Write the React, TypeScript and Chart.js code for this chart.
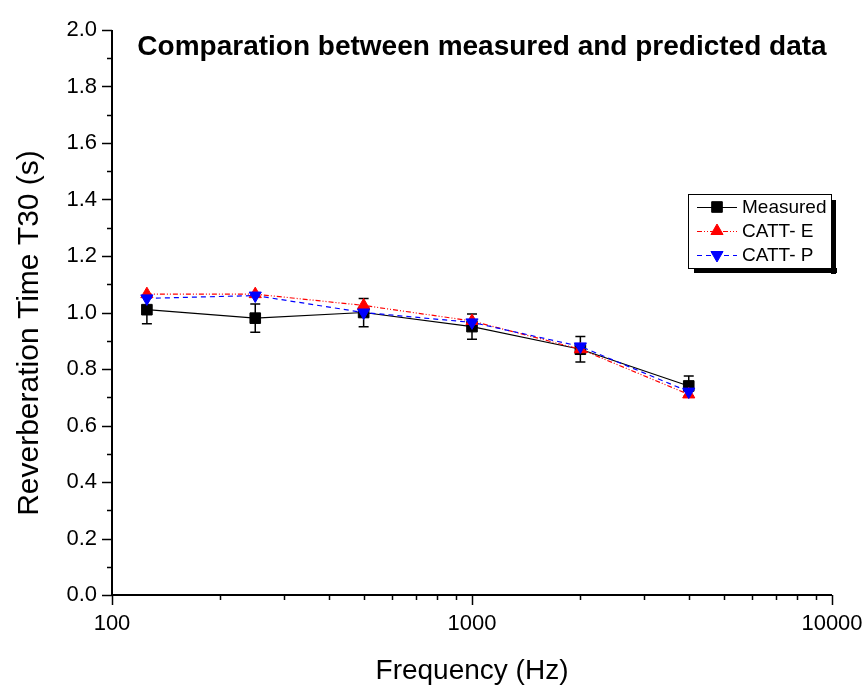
import React, { useEffect, useRef } from 'react';
import { Chart, registerables } from 'chart.js';

Chart.register(...registerables);

// ---------- data ----------
const frequencies = [125, 250, 500, 1000, 2000, 4000];
const measured = [1.01, 0.98, 1.0, 0.95, 0.87, 0.74];
const measuredError = [0.05, 0.05, 0.05, 0.045, 0.045, 0.035];
const cattE = [1.065, 1.065, 1.025, 0.97, 0.87, 0.71];
const cattP = [1.05, 1.06, 1.0, 0.965, 0.88, 0.72];

const xMajorTicks = [100, 1000, 10000];
const yMin = 0;
const yMax = 2.0;
const yStep = 0.2;

const seriesNames = ['Measured', 'CATT- E', 'CATT- P'];
const seriesColors = ['#000000', '#ff0000', '#0000ff'];
const chartTitle = 'Comparation between measured and predicted data';
const xTitle = 'Frequency (Hz)';
const yTitle = 'Reverberation Time T30 (s)';

const FONT = '"Liberation Sans", Arial, sans-serif';

function drawMarker(ctx: CanvasRenderingContext2D, kind: string, x: number, y: number, r: number, color: string) {
  ctx.save();
  ctx.fillStyle = color;
  ctx.strokeStyle = color;
  ctx.lineWidth = 1;
  ctx.setLineDash([]);
  ctx.beginPath();
  if (kind === 'rect') {
    const s = Math.SQRT1_2 * r;
    ctx.rect(x - s, y - s, 2 * s, 2 * s);
  } else {
    let rad = kind === 'down' ? Math.PI : 0;
    ctx.moveTo(x + Math.sin(rad) * r, y - Math.cos(rad) * r);
    rad += (2 * Math.PI) / 3;
    ctx.lineTo(x + Math.sin(rad) * r, y - Math.cos(rad) * r);
    rad += (2 * Math.PI) / 3;
    ctx.lineTo(x + Math.sin(rad) * r, y - Math.cos(rad) * r);
    ctx.closePath();
  }
  ctx.fill();
  ctx.stroke();
  ctx.restore();
}

const decorPlugin = {
  id: 'decor',
  beforeDatasetsDraw(chart: any) {
    const { ctx, scales } = chart;
    const x = scales.x;
    const y = scales.y;
    ctx.save();
    ctx.strokeStyle = '#000';
    ctx.lineWidth = 1.5;
    frequencies.forEach((f, i) => {
      const px = x.getPixelForValue(f);
      const top = y.getPixelForValue(measured[i] + measuredError[i]);
      const bot = y.getPixelForValue(measured[i] - measuredError[i]);
      ctx.beginPath();
      ctx.moveTo(px, top);
      ctx.lineTo(px, bot);
      ctx.moveTo(px - 5, top);
      ctx.lineTo(px + 5, top);
      ctx.moveTo(px - 5, bot);
      ctx.lineTo(px + 5, bot);
      ctx.stroke();
    });
    ctx.restore();
  },
  afterDraw(chart: any) {
    const { ctx, chartArea, scales } = chart;
    const x = scales.x;
    const y = scales.y;
    const { left, right, top, bottom } = chartArea;
    ctx.save();
    ctx.strokeStyle = '#000';
    ctx.lineCap = 'butt';

    // tick marks
    ctx.lineWidth = 1.5;
    ctx.beginPath();
    for (let d = 100; d < 10000; d *= 10) {
      for (let k = 1; k <= 10; k++) {
        const v = d * k;
        if (v > 10000) break;
        const px = Math.round(x.getPixelForValue(v)) + 0.5;
        const len = k === 1 || k === 10 ? 10 : 5;
        ctx.moveTo(px, bottom);
        ctx.lineTo(px, bottom + len);
      }
    }
    const nY = Math.round((yMax - yMin) / (yStep / 2));
    for (let i = 0; i <= nY; i++) {
      const v = yMin + (i * yStep) / 2;
      const py = Math.round(y.getPixelForValue(v)) + 0.5;
      const len = i % 2 === 0 ? 10 : 5;
      ctx.moveTo(left, py);
      ctx.lineTo(left - len, py);
    }
    ctx.stroke();

    // axis lines
    ctx.lineWidth = 2;
    ctx.beginPath();
    ctx.moveTo(left, top);
    ctx.lineTo(left, bottom);
    ctx.lineTo(right, bottom);
    ctx.stroke();

    // title
    ctx.fillStyle = '#000';
    ctx.font = `bold 28px ${FONT}`;
    ctx.textAlign = 'center';
    ctx.textBaseline = 'middle';
    ctx.fillText(chartTitle, 482, 47);

    // axis titles
    ctx.font = `28px ${FONT}`;
    ctx.fillText(xTitle, (left + right) / 2, 671);
    ctx.save();
    ctx.translate(30, 333);
    ctx.rotate(-Math.PI / 2);
    ctx.font = `30px ${FONT}`;
    ctx.fillText(yTitle, 0, 0);
    ctx.restore();

    // legend
    const lx = 688, ly = 194, lw = 143, lh = 74;
    ctx.fillStyle = '#000';
    ctx.fillRect(lx + lw, ly + 6, 5, lh);
    ctx.fillRect(lx + 6, ly + lh, lw, 5);
    ctx.fillStyle = '#fff';
    ctx.fillRect(lx, ly, lw, lh);
    ctx.lineWidth = 1;
    ctx.strokeStyle = '#000';
    ctx.strokeRect(lx + 0.5, ly + 0.5, lw, lh);

    const rows = [207, 231, 255];
    const dashes = [[], [5, 2, 1, 2, 1, 2], [5, 4]];
    const kinds = ['rect', 'up', 'down'];
    const radii = [7.5, 7, 7];
    rows.forEach((ry, i) => {
      ctx.save();
      ctx.strokeStyle = seriesColors[i];
      ctx.lineWidth = 1.2;
      ctx.setLineDash(dashes[i]);
      ctx.beginPath();
      ctx.moveTo(697, ry + 0.5);
      ctx.lineTo(737, ry + 0.5);
      ctx.stroke();
      ctx.restore();
      drawMarker(ctx, kinds[i], 717, ry, radii[i], seriesColors[i]);
      ctx.fillStyle = '#000';
      ctx.font = `19px ${FONT}`;
      ctx.textAlign = 'left';
      ctx.textBaseline = 'middle';
      ctx.fillText(seriesNames[i], 742, ry + 1);
    });
    ctx.restore();
  },
};

export default function App() {
  const canvasRef = useRef<HTMLCanvasElement | null>(null);

  useEffect(() => {
    const canvas = canvasRef.current;
    if (!canvas) return;
    const toPoints = (vals: number[]) => frequencies.map((f, i) => ({ x: f, y: vals[i] }));
    const chart = new Chart(canvas, {
      type: 'line',
      data: {
        datasets: [
          {
            label: seriesNames[0],
            data: toPoints(measured),
            borderColor: seriesColors[0],
            backgroundColor: seriesColors[0],
            borderWidth: 1.2,
            pointStyle: 'rect',
            pointRadius: 7.5,
            pointBorderWidth: 1,
            order: 3,
            tension: 0,
          },
          {
            label: seriesNames[1],
            data: toPoints(cattE),
            borderColor: seriesColors[1],
            backgroundColor: seriesColors[1],
            borderWidth: 1.2,
            borderDash: [5, 2, 1, 2, 1, 2],
            pointStyle: 'triangle',
            pointRadius: 7,
            pointBorderWidth: 1,
            order: 2,
            tension: 0,
          },
          {
            label: seriesNames[2],
            data: toPoints(cattP),
            borderColor: seriesColors[2],
            backgroundColor: seriesColors[2],
            borderWidth: 1.2,
            borderDash: [5, 4],
            pointStyle: 'triangle',
            pointRotation: 180,
            pointRadius: 7,
            pointBorderWidth: 1,
            order: 1,
            tension: 0,
          },
        ],
      },
      options: {
        responsive: false,
        animation: false,
        events: [],
        layout: { padding: { left: 0, top: 30, right: 32, bottom: 0 } },
        plugins: {
          legend: { display: false },
          title: { display: false },
          tooltip: { enabled: false },
        },
        scales: {
          x: {
            type: 'logarithmic',
            min: 100,
            max: 10000,
            grid: { display: false, drawTicks: false },
            border: { display: false },
            afterFit: (s: any) => {
              s.height = 93;
              s.paddingLeft = 0;
              s.paddingRight = 0;
            },
            ticks: {
              autoSkip: false,
              maxRotation: 0,
              padding: 16,
              color: '#000',
              font: { family: FONT, size: 22 },
              callback: (v: any) => (xMajorTicks.includes(Number(v)) ? String(v) : ''),
            },
          },
          y: {
            type: 'linear',
            min: yMin,
            max: yMax,
            grid: { display: false, drawTicks: false },
            border: { display: false },
            afterFit: (s: any) => {
              s.width = 112;
              s.paddingTop = 0;
              s.paddingBottom = 0;
            },
            ticks: {
              stepSize: yStep,
              padding: 15,
              color: '#000',
              font: { family: FONT, size: 22 },
              callback: (v: any) => Number(v).toFixed(1),
            },
          },
        },
      },
      plugins: [decorPlugin],
    });
    return () => chart.destroy();
  }, []);

  return (
    <div style={{ position: 'absolute', left: 0, top: 0, width: 864, height: 688, background: '#fff' }}>
      <canvas ref={canvasRef} width={864} height={688} style={{ display: 'block' }} />
    </div>
  );
}
